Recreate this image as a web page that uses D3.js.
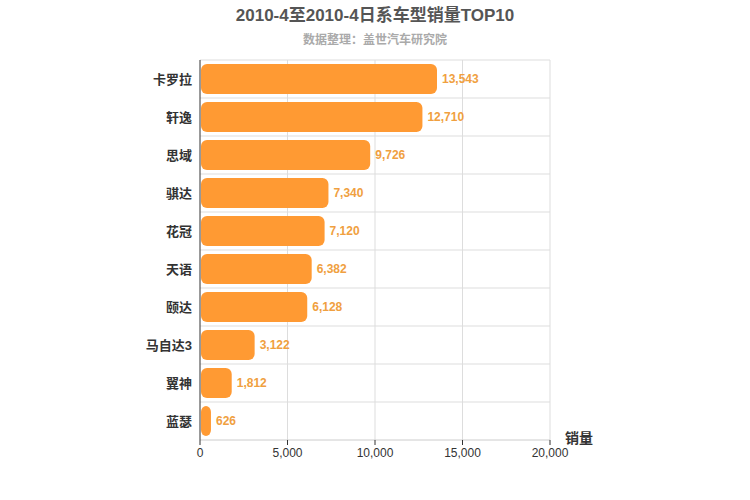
<!DOCTYPE html>
<html><head><meta charset="utf-8">
<script src="https://cdn.jsdelivr.net/npm/d3@7"></script>
<style>body{margin:0;font-family:"Liberation Sans","Noto Sans CJK SC",sans-serif;}</style>
</head><body>
<svg id="c" width="750" height="500"></svg>
<script>
var models = ['卡罗拉','轩逸','思域','骐达','花冠','天语','颐达','马自达3','翼神','蓝瑟'];
var sales = [13543,12710,9726,7340,7120,6382,6128,3122,1812,626];
var ticks = [0,5000,10000,15000,20000];

var svg = d3.select('#c');
var pLeft = 200, pRight = 550, pTop = 60, pBottom = 440;

var x = d3.scaleLinear().domain([0,20000]).range([pLeft,pRight]);
var y = d3.scaleBand().domain(models).range([pTop,pBottom]);

// grid
svg.append('g').selectAll('line').data(ticks.slice(1)).enter().append('line')
	.attr('x1',function(d){return x(d);}).attr('x2',function(d){return x(d);})
	.attr('y1',pTop).attr('y2',pBottom).attr('stroke','#ddd');
svg.append('g').selectAll('line').data(models).enter().append('line')
	.attr('x1',pLeft).attr('x2',pRight)
	.attr('y1',function(d){return y(d);}).attr('y2',function(d){return y(d);})
	.attr('stroke','#ddd');
svg.append('line').attr('x1',pLeft).attr('x2',pRight).attr('y1',pBottom).attr('y2',pBottom).attr('stroke','#ccc');
svg.append('line').attr('x1',pLeft).attr('x2',pLeft).attr('y1',pTop).attr('y2',pBottom).attr('stroke','#333');

// bars
svg.append('g').selectAll('rect').data(sales).enter().append('rect')
	.attr('x',pLeft+1)
	.attr('y',function(d,i){return y(models[i])+4;})
	.attr('height',y.bandwidth()-8)
	.attr('width',function(d){return x(d)-pLeft-1;})
	.attr('rx',6).attr('fill','#ff9a33');

svg.append('g').selectAll('text').data(sales).enter().append('text')
	.attr('x',function(d){return x(d)+5;})
	.attr('y',function(d,i){return y(models[i])+y.bandwidth()/2+4;})
	.attr('fill','#f0a040').attr('font-size',12).attr('font-weight','bold')
	.text(function(d){return d3.format(',')(d);});

// category labels
svg.append('g').selectAll('text').data(models).enter().append('text')
	.attr('x',pLeft-8).attr('y',function(d){return y(d)+y.bandwidth()/2+5;})
	.attr('text-anchor','end').attr('font-size',13).attr('font-weight','bold').attr('fill','#333')
	.text(function(d){return d;});

// x axis labels
svg.append('g').selectAll('text').data(ticks).enter().append('text')
	.attr('x',function(d){return x(d);}).attr('y',pBottom+17)
	.attr('text-anchor','middle').attr('font-size',12).attr('fill','#333')
	.text(function(d){return d3.format(',')(d);});
svg.append('g').selectAll('line').data(ticks).enter().append('line')
	.attr('x1',function(d){return x(d);}).attr('x2',function(d){return x(d);})
	.attr('y1',pBottom).attr('y2',pBottom+5).attr('stroke','#333');

svg.append('text').attr('x',565).attr('y',443).attr('font-size',14).attr('font-weight','bold').attr('fill','#333').text('销量');

svg.append('text').attr('x',375).attr('y',21).attr('text-anchor','middle').attr('font-size',17)
	.attr('font-weight','bold').attr('fill','#555').text('2010-4至2010-4日系车型销量TOP10');
svg.append('text').attr('x',375).attr('y',44).attr('text-anchor','middle').attr('font-size',12)
	.attr('font-weight','bold').attr('fill','#aaa').text('数据整理：盖世汽车研究院');
</script>
</body></html>
